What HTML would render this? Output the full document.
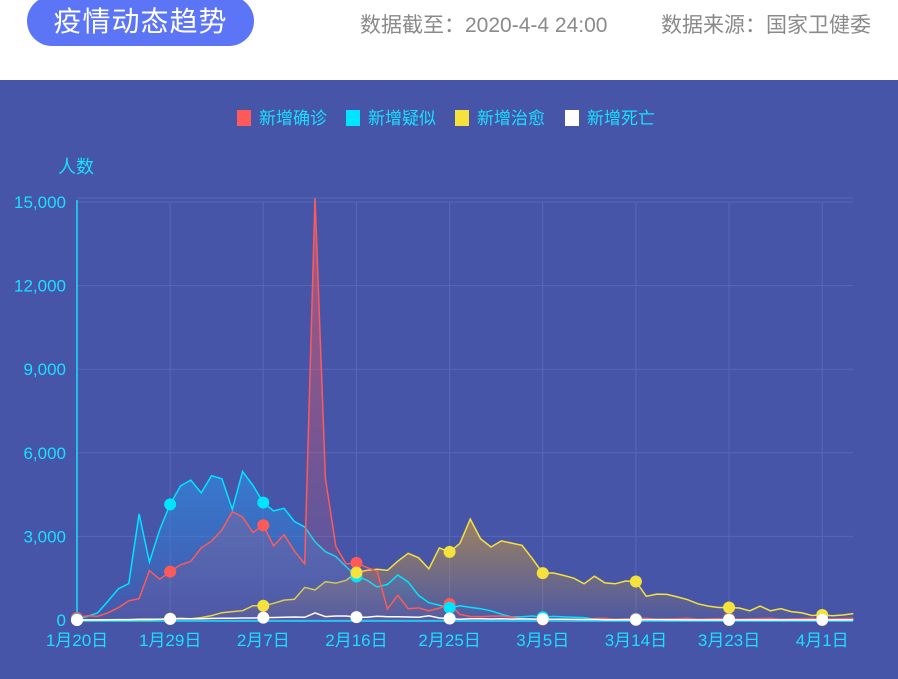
<!DOCTYPE html>
<html><head><meta charset="utf-8"><style>
body{margin:0;width:898px;height:679px;overflow:hidden;background:#fff;font-family:"Liberation Sans","Noto Sans CJK SC",sans-serif}
.top{position:absolute;left:0;top:0;width:898px;height:80px;background:#fff}
.btn{position:absolute;left:27px;top:-4px;width:227px;height:50px;border-radius:25px;background:#5c74f6;color:#fff;font-size:28px;line-height:52px;text-align:center;letter-spacing:1px}
.info{position:absolute;top:9px;font-size:21px;color:#8a8a8a;white-space:nowrap}
#c{position:absolute;left:0;top:80px}
</style></head><body>
<div class="top"><div class="btn">疫情动态趋势</div>
<div class="info" style="left:360px">数据截至：2020-4-4 24:00</div>
<div class="info" style="left:661px">数据来源：国家卫健委</div></div>
<svg id="c" width="898" height="599" viewBox="0 80 898 599" xmlns="http://www.w3.org/2000/svg" font-family="Liberation Sans, Noto Sans CJK SC, sans-serif">
<defs>
<linearGradient id="gr" x1="0" y1="0" x2="0" y2="1"><stop offset="0" stop-color="#ff5a5a" stop-opacity="0.55"/><stop offset="1" stop-color="#ff5a5a" stop-opacity="0.05"/></linearGradient>
<linearGradient id="gb" x1="0" y1="0" x2="0" y2="1"><stop offset="0" stop-color="#2f8ae0" stop-opacity="0.7"/><stop offset="1" stop-color="#2f8ae0" stop-opacity="0.05"/></linearGradient>
<linearGradient id="gy" x1="0" y1="0" x2="0" y2="1"><stop offset="0" stop-color="#d8a030" stop-opacity="0.6"/><stop offset="1" stop-color="#d8a030" stop-opacity="0.05"/></linearGradient>
</defs>
<rect x="0" y="80" width="898" height="599" fill="#4655a8"/>
<g id="g"></g>
</svg>
<script>
var g=document.getElementById('g'),s='';
var X0=77,DX=10.35,Y0=620,K=418/15000;
function x(i){return X0+i*DX}function y(v){return Y0-v*K}
for(var v=0;v<=15000;v+=3000){s+='<line x1="77" x2="853" y1="'+y(v)+'" y2="'+y(v)+'" stroke="#5767b8" stroke-width="1"/>';
s+='<text x="66" y="'+(y(v)+6)+'" fill="#19e0ff" font-size="17" text-anchor="end">'+(v?v.toLocaleString('en-US'):'0')+'</text>';}
s+='<line x1="77" x2="853" y1="198" y2="198" stroke="#5767b8"/>';
var labs=['1月20日','1月29日','2月7日','2月16日','2月25日','3月5日','3月14日','3月23日','4月1日'];
for(var i=0;i<9;i++){var xx=x(i*9);if(i)s+='<line x1="'+xx+'" x2="'+xx+'" y1="202" y2="620" stroke="#5767b8"/>';
s+='<text x="'+xx+'" y="646" fill="#19e0ff" font-size="17" text-anchor="middle">'+labs[i]+'</text>';}
s+='<line x1="77" x2="77" y1="200" y2="621" stroke="#19e0ff" stroke-width="1.5"/>';
s+='<line x1="77" x2="853" y1="621" y2="621" stroke="#19e0ff" stroke-width="1.5"/>';
s+='<text x="58" y="173" fill="#19e0ff" font-size="18">人数</text>';
var L=[['#ff5a5a','新增确诊',237],['#00e5ff','新增疑似',346],['#f5e23c','新增治愈',455],['#ffffff','新增死亡',565]];
L.forEach(function(l){s+='<rect x="'+l[2]+'" y="110" width="14" height="16" fill="'+l[0]+'"/><text x="'+(l[2]+22)+'" y="124" fill="#19e0ff" font-size="17">'+l[1]+'</text>';});
function ext(a,n,f){while(a.length<76)a.push(f(a.length));return a}
var conf=ext([77,149,131,259,444,688,769,1771,1459,1737,1981,2102,2590,2829,3235,3887,3694,3143,3399,2656,3062,2478,2015,15152,5090,2641,2009,2048,1886,1749,394,889,406,433,327,427,573,202,125,119,139,143,99,44,40,19,24,15,20,11],0,function(i){return 30+ (i%4)*10});
var sus=ext([27,130,257,680,1118,1309,3806,2077,3248,4148,4812,5019,4562,5173,5072,3971,5328,4833,4214,3916,4008,3536,3342,2807,2450,2277,1918,1563,1432,1185,1277,1614,1361,882,620,530,439,508,452,406,329,207,109,118,143,99,129,112,102,86],0,function(i){return Math.max(20,80-i)});
var cur=[0,0,0,3,9,5,13,9,21,43,60,47,85,157,262,300,332,510,510,600,715,744,1171,1081,1373,1323,1425,1701,1779,1824,1779,2109,2393,2231,1837,2589,2444,2750,3622,2910,2620,2840,2760,2680,2200,1681,1690,1600,1500,1300,1570,1330,1300,1400,1380,850,930,920,830,730,580,500,450,450,430,330,500,330,410,300,260,160,180,150,180,230];
var dea=ext([0,3,3,8,16,15,24,26,26,38,43,46,45,57,64,65,73,73,86,89,97,108,97,254,121,143,142,105,98,136,114,118,109,97,150,71,52,29,44,47,35,42,31,38,31,30,28,27,22,17,22,11,7,13,10,14,13,11,8,3],0,function(i){return 5});
function line(a,c,fill){var p='';a.forEach(function(v,i){p+=(i?'L':'M')+x(i).toFixed(1)+','+y(v).toFixed(1)});
if(fill)s+='<path d="'+p+'L'+x(a.length-1)+','+Y0+'L'+X0+','+Y0+'Z" fill="url(#'+fill+')"/>';
s+='<path d="'+p+'" fill="none" stroke="'+c+'" stroke-width="1.5"/>';}
function marks(a,c){for(var i=0;i<76;i+=9)s+='<circle cx="'+x(i)+'" cy="'+y(a[i])+'" r="6" fill="'+c+'"/>';}
line(cur,'#f5e23c','gy');line(sus,'#00e5ff','gb');line(conf,'#ff5a5a','gr');line(dea,'#ffffff');
marks(conf,'#ff5a5a');marks(sus,'#00e5ff');marks(cur,'#f5e23c');marks(dea,'#ffffff');
g.innerHTML=s;
</script>
</body></html>
